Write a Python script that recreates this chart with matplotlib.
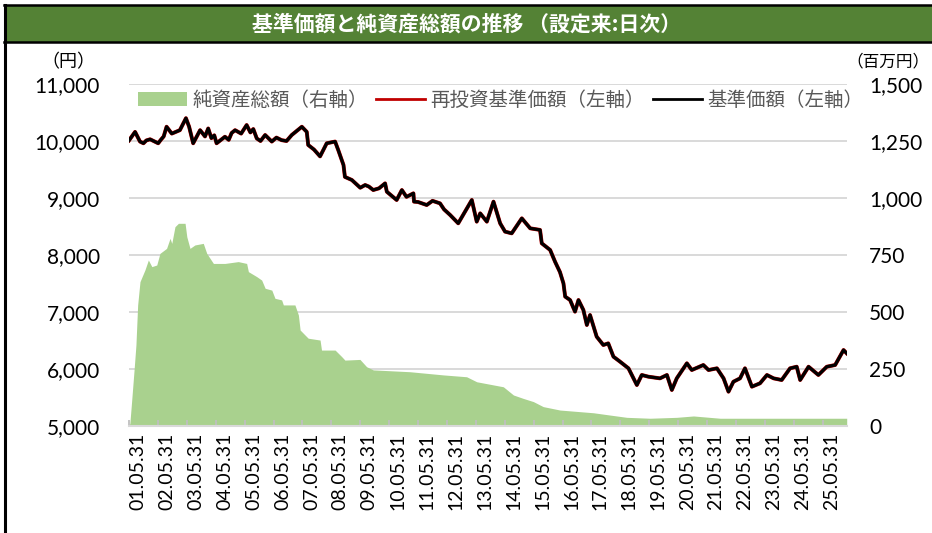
import matplotlib
matplotlib.use("Agg")
import matplotlib.pyplot as plt
from matplotlib.lines import Line2D
from matplotlib.patches import Patch, Rectangle
from matplotlib.ticker import FuncFormatter

JP = ["Noto Sans CJK JP", "DejaVu Sans"]
NUM = ["Lato", "DejaVu Sans"]

# 基準価額 (円), x = decimal year
nav_years = [2001.10, 2001.31, 2001.48, 2001.60, 2001.70, 2001.83, 2002.11, 2002.20,
             2002.30, 2002.40, 2002.58, 2002.86, 2003.07, 2003.18, 2003.32, 2003.56,
             2003.73, 2003.84, 2003.95, 2004.05, 2004.13, 2004.42, 2004.55, 2004.65,
             2004.77, 2004.98, 2005.17, 2005.30, 2005.40, 2005.52, 2005.65, 2005.81,
             2006.04, 2006.20, 2006.38, 2006.55, 2006.73, 2007.08, 2007.25, 2007.30,
             2007.50, 2007.71, 2007.94, 2008.23, 2008.34, 2008.52, 2008.57, 2008.81,
             2009.10, 2009.27, 2009.40, 2009.55, 2009.75, 2009.96, 2010.02, 2010.36,
             2010.54, 2010.70, 2010.94, 2010.96, 2011.10, 2011.40, 2011.60, 2011.86,
             2012.00, 2012.21, 2012.49, 2012.79, 2012.96, 2013.13, 2013.25, 2013.48,
             2013.71, 2013.94, 2014.11, 2014.34, 2014.69, 2014.98, 2015.32, 2015.38,
             2015.67, 2015.84, 2016.01, 2016.13, 2016.19, 2016.36, 2016.53, 2016.65,
             2016.82, 2016.94, 2017.05, 2017.28, 2017.51, 2017.68, 2017.86, 2018.09,
             2018.38, 2018.67, 2018.84, 2019.07, 2019.47, 2019.71, 2019.88, 2020.05,
             2020.40, 2020.57, 2020.97, 2021.15, 2021.44, 2021.67, 2021.84, 2022.01,
             2022.24, 2022.41, 2022.65, 2022.93, 2023.17, 2023.40, 2023.68, 2023.97,
             2024.20, 2024.32, 2024.61, 2024.95, 2025.24, 2025.53, 2025.82, 2025.93]
nav_values = [10010, 10160, 9990, 9960, 10010, 10030, 9960, 10020,
              10080, 10250, 10130, 10190, 10400, 10250, 9960, 10190,
              10080, 10220, 10050, 10100, 9960, 10075, 10020, 10140,
              10190, 10130, 10280, 10150, 10210, 10045, 10000, 10105,
              9990, 10060, 10015, 10000, 10105, 10250, 10160, 9930,
              9850, 9730, 9960, 9990, 9840, 9580, 9370, 9316,
              9180, 9228, 9200, 9140, 9170, 9257, 9110, 8965,
              9140, 9020, 9082, 8936, 8930, 8877, 8950, 8906,
              8800, 8702, 8556, 8819, 8965, 8585, 8731, 8585,
              8936, 8556, 8410, 8380, 8643, 8468, 8440, 8205,
              8088, 7882, 7700, 7503, 7270, 7210, 7006, 7210,
              7035, 6772, 6947, 6567, 6421, 6450, 6216, 6128,
              6012, 5719, 5895, 5865, 5836, 5895, 5632, 5836,
              6100, 5982, 6070, 5982, 6012, 5836, 5602, 5777,
              5836, 6012, 5690, 5749, 5895, 5836, 5807, 6012,
              6040, 5807, 6040, 5895, 6040, 6070, 6333, 6275]
# 再投資基準価額 (no distributions, same path)
reinv_values = list(nav_values)

# 純資産総額 (百万円)
aum_years = [2001.10, 2001.13, 2001.19, 2001.28, 2001.34, 2001.40, 2001.48, 2001.65,
             2001.77, 2001.89, 2002.06, 2002.17, 2002.40, 2002.52, 2002.58, 2002.69,
             2002.81, 2003.04, 2003.10, 2003.21, 2003.38, 2003.67, 2003.79, 2004.02,
             2004.42, 2004.88, 2005.17, 2005.23, 2005.52, 2005.69, 2005.81, 2006.04,
             2006.15, 2006.38, 2006.44, 2006.84, 2006.96, 2007.02, 2007.19, 2007.30,
             2007.71, 2007.76, 2008.23, 2008.46, 2008.57, 2009.09, 2009.32, 2009.55,
             2010.82, 2011.98, 2012.78, 2013.13, 2014.05, 2014.40, 2014.74, 2015.09,
             2015.43, 2016.01, 2017.17, 2017.74, 2018.32, 2019.13, 2020.05, 2020.63,
             2021.55, 2025.82, 2025.93]
aum_values = [0, 12, 107, 253, 355, 531, 633, 684,
              728, 699, 706, 757, 779, 823, 801, 874,
              889, 889, 830, 779, 794, 801, 757, 713,
              713, 721, 713, 677, 655, 640, 604, 596,
              560, 553, 531, 531, 487, 421, 399, 385,
              377, 333, 333, 304, 289, 292, 260, 246,
              238, 224, 216, 194, 172, 136, 121, 107,
              85, 70, 58, 48, 38, 34, 38, 44,
              34, 34, 34]

tick_labels = ["01.05.31", "02.05.31", "03.05.31", "04.05.31", "05.05.31",
               "06.05.31", "07.05.31", "08.05.31", "09.05.31", "10.05.31",
               "11.05.31", "12.05.31", "13.05.31", "14.05.31", "15.05.31",
               "16.05.31", "17.05.31", "18.05.31", "19.05.31", "20.05.31",
               "21.05.31", "22.05.31", "23.05.31", "24.05.31", "25.05.31"]

x_start, x_end = 2001.10, 2025.94
label_pos = [2001.41 + i for i in range(len(tick_labels))]
mark_pos = [x_start + i for i in range(len(tick_labels))]

W, H = 932, 533
fig = plt.figure(figsize=(W / 100, H / 100), dpi=100)

# frame + title bar
fig.add_artist(Rectangle((5 / W, 1 - 42 / H), 1, 36 / H, transform=fig.transFigure,
                         facecolor="#548235", edgecolor="none"))
fig.add_artist(Line2D([4 / W, 1], [1 - 5 / H] * 2, transform=fig.transFigure, color="black", lw=1.8))
fig.add_artist(Line2D([4 / W, 1], [1 - 42 / H] * 2, transform=fig.transFigure, color="black", lw=1.8))
fig.add_artist(Line2D([4.5 / W] * 2, [0, 1 - 5 / H], transform=fig.transFigure, color="black", lw=2.2))
fig.text(467 / W, 1 - 24 / H, "基準価額と純資産総額の推移 （設定来:日次）", color="white",
         fontsize=15, fontweight="bold", family=JP, ha="center", va="center")

ax = fig.add_axes([129 / W, 107 / H, 718 / W, 342 / H])
ax2 = ax.twinx()
ax.set_zorder(ax2.get_zorder() + 1)
ax.patch.set_visible(False)

# area on right axis, with grid behind
ax2.yaxis.grid(True, color="#d9d9d9", lw=1.4)
ax2.set_axisbelow(True)
ax2.fill_between(aum_years, aum_values, 0, color="#a9d18e", lw=0)
ax2.set_ylim(0, 1500)
ax2.set_yticks(range(0, 1501, 250))

ax.plot(nav_years, reinv_values, color="#c00000", lw=2.8, solid_joinstyle="round")
ax.plot(nav_years, nav_values, color="black", lw=2.3, solid_joinstyle="round")
ax.set_ylim(5000, 11000)
ax.set_yticks(range(5000, 11001, 1000))
ax.set_xlim(x_start, x_end)

comma = FuncFormatter(lambda v, p: f"{int(v):,}")
ax.yaxis.set_major_formatter(comma)
ax2.yaxis.set_major_formatter(comma)

for a in (ax, ax2):
    for s in a.spines.values():
        s.set_visible(False)
ax.spines["bottom"].set_visible(True)
ax.spines["bottom"].set_color("#d9d9d9")
ax.spines["bottom"].set_linewidth(1.5)

ax.tick_params(axis="y", length=0, pad=21, labelsize=15, labelcolor="black")
ax2.tick_params(axis="y", length=0, pad=16, labelsize=15, labelcolor="black")
for lab in ax.get_yticklabels() + ax2.get_yticklabels():
    lab.set_family(NUM)

ax.set_xticks(label_pos)
ax.set_xticklabels(tick_labels, rotation=90, family=NUM, fontsize=14)
ax.set_xticks(mark_pos, minor=True)
ax.tick_params(axis="x", which="major", length=0, pad=5)
ax.tick_params(axis="x", which="minor", direction="in", length=4, width=1.3, color="#bfbfbf")

fig.text(68 / W, 1 - 62 / H, "（円）", family=JP, fontsize=13, ha="center", va="center")
fig.text(888 / W, 1 - 62 / H, "（百万円）", family=JP, fontsize=12, ha="center", va="center")

handles = [Patch(facecolor="#a9d18e", edgecolor="none"),
           Line2D([], [], color="#c00000", lw=2),
           Line2D([], [], color="black", lw=2)]
names = ["純資産総額（右軸）", "再投資基準価額（左軸）", "基準価額（左軸）"]
leg = ax.legend(handles, names, loc="center", bbox_to_anchor=(0.518, 0.953), ncol=3,
                frameon=False, prop={"family": JP, "size": 14}, labelcolor="#595959",
                handlelength=2.5, handletextpad=0.3, columnspacing=0.4)

fig.savefig("out.png", dpi=100)
